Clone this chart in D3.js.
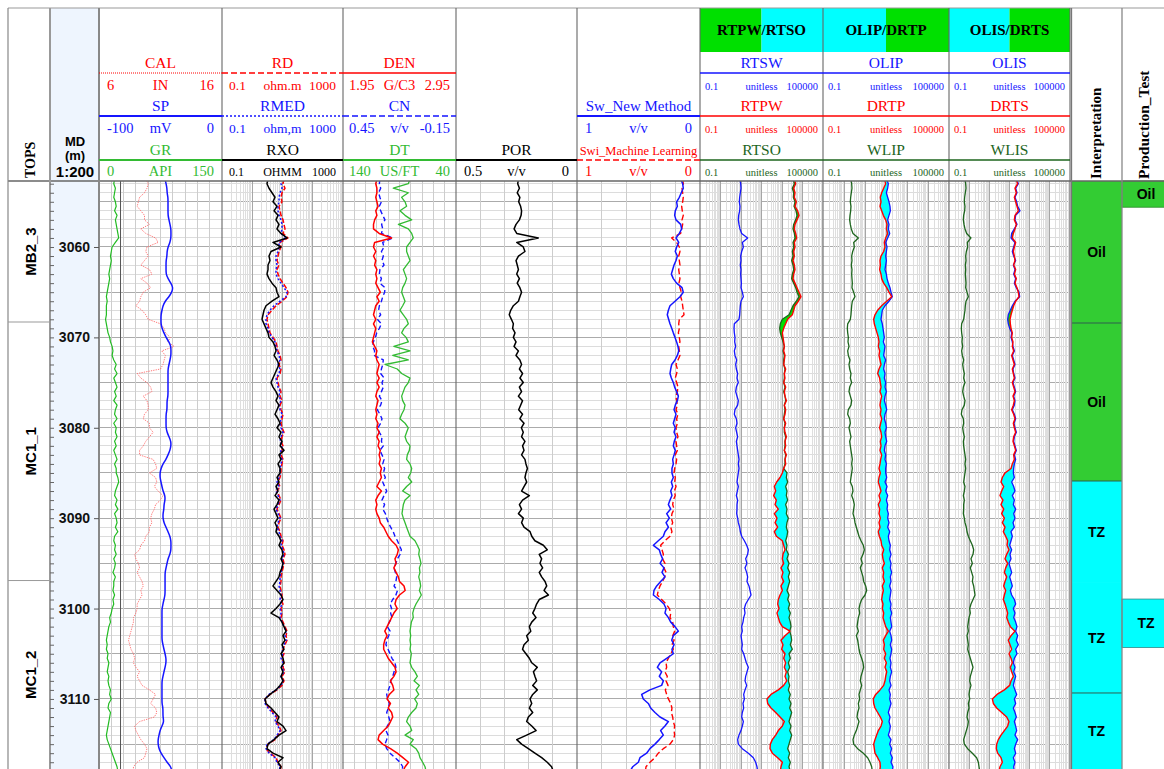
<!DOCTYPE html>
<html><head><meta charset="utf-8">
<script src="https://cdn.jsdelivr.net/npm/d3@7"></script>
<style>
html,body{margin:0;padding:0;background:#fff;}
svg{display:block;}
</style></head>
<body>
<svg id="chart" width="1164" height="769"></svg>
<script>
// ---------------- log data (sampled every 0.5 m from 3052.5 m) ----------------
const depthTop = 3052.5, depthStep = 0.5;

const GR = [19,18,20,19,18,20,21,19,22,20, 21,22,23,24,20,16,15,14,15,14, 13,12,13,12,11,10,9,10,9,9,
 9,8,9,10,11,13,14,16,17,16, 18,21,19,22,18,20,22,19,21,18, 22,20,19,22,18,21,20,22,19,21,
 18,20,22,19,21,21,23,24,22,20, 19,22,20,23,19,21,22,20,23,19, 18,20,19,21,18,20,19,17,20,18,
 18,17,19,17,18,16,15,13,14,12, 11,10,9,10,9,11,10,12,11,10, 12,11,12,14,13,15,12,11,14,13,
 12,11,10,9,10,12,14,16,18,20, 22,23];
const CAL = [9.8,10.0,9.9,9.7,9.3,9.2,9.1,9.4,9.7,9.7, 10.1,9.4,9.8,10.6,10.8,9.9,9.8,10.0,9.7,9.4,
 10.1,10.3,9.4,9.9,10.2,9.6,9.4,9.3,9.0,9.5, 9.8,10.0,11.0,11.3,11.4,11.8,11.6,12.1,11.1,11.4,
 11.3,11.2,11.0,9.1,9.4,9.9,10.2,10.3,9.6,9.9, 10.0,10.0,9.7,9.6,10.1,10.1,10.4,10.1,9.8,9.6,
 9.3,9.3,10.4,10.6,10.7,10.1,10.6,10.7,10.5,10.8, 11.2,11.0,10.6,10.5,10.3,10.2,10.3,10.1,10.1,9.8,
 9.7,9.4,9.3,8.9,9.0,9.2,9.3,9.1,9.3,9.5, 9.6,9.4,9.5,9.3,9.1,9.1,9.0,8.8,8.8,8.7,
 8.6,8.5,8.4,8.5,8.6,8.8,8.9,8.8,9.0,9.3, 9.1,9.3,9.5,10.1,10.6,10.4,10.2,10.6,10.7,10.5,
 9.3,8.9,9.0,9.2,9.4,9.7,9.9,9.8,9.7,9.1, 8.8,8.8];
const SP = [-46.3,-45.5,-44.7,-44.7,-43.9,-43.9,-43.9,-43.9,-43.9,-43.1, -42.3,-41.5,-41.5,-41.5,-42.3,-43.9,-44.7,-44.7,-45.5,-45.5,
 -45.5,-45.5,-43.9,-41.5,-39.8,-40.7,-43.1,-46.3,-48.0,-48.8, -49.6,-49.6,-49.6,-48.8,-47.2,-45.5,-43.1,-41.5,-41.5,-41.5,
 -42.3,-43.1,-43.9,-43.9,-43.9,-43.9,-43.9,-43.9,-43.9,-44.7, -44.7,-44.7,-45.5,-45.5,-45.5,-45.5,-44.7,-43.1,-41.5,-41.5,
 -42.3,-43.9,-45.5,-48.0,-49.6,-50.4,-50.4,-49.6,-48.8,-48.0, -46.3,-46.3,-47.2,-47.2,-48.0,-48.0,-47.2,-45.5,-43.9,-42.3,
 -41.5,-41.5,-41.5,-42.3,-43.9,-44.7,-45.5,-46.3,-46.3,-46.3, -46.3,-46.3,-46.3,-47.2,-48.0,-48.8,-48.8,-48.8,-48.8,-48.8,
 -48.8,-48.8,-48.8,-48.0,-47.2,-46.3,-45.5,-45.5,-46.3,-47.2, -48.0,-48.8,-48.8,-48.8,-48.8,-48.8,-48.8,-48.0,-48.0,-48.0,
 -47.2,-48.8,-50.4,-51.2,-52.0,-52.0,-51.2,-49.6,-47.2,-44.7, -41.5,-40.7];
const RD = [11.2,10.4,12.1,9.62,8.92,9.62,7.66,8.27,8.92,10.4, 11.2,12.1,10.4,15.2,8.27,8.92,7.66,7.10,6.58,7.66,
 6.58,7.10,8.27,10.4,13.1,15.2,14.1,9.62,6.10,4.50, 3.32,3.07,3.32,3.58,3.86,4.85,6.10,6.58,7.10,8.27,
 8.92,7.66,8.92,8.27,6.58,7.10,7.66,8.92,8.27,9.62, 8.27,8.92,10.4,9.62,8.92,9.62,11.2,9.62,8.92,10.4,
 9.62,8.92,10.4,9.62,8.92,8.92,8.27,7.10,8.27,6.58, 7.66,8.92,7.66,6.58,7.66,8.92,7.66,7.10,8.27,8.92,
 10.4,9.62,11.2,12.1,10.4,11.2,10.4,9.62,8.92,8.92, 8.27,8.92,9.62,8.92,10.4,8.92,9.62,8.92,10.4,12.1,
 14.1,13.1,14.1,12.1,10.4,11.2,9.62,11.2,10.4,12.1, 9.62,11.2,9.62,6.58,3.86,2.64,2.85,3.58,4.85,6.58,
 6.10,7.66,8.92,7.10,5.65,3.32,2.85,3.86,6.10,7.10, 8.92,8.27];
const RMED = [8.92,8.92,9.62,8.27,7.66,7.66,7.10,7.10,7.66,8.92, 9.62,9.62,8.92,13.1,7.66,7.66,7.10,6.10,6.10,6.58,
 6.10,6.10,7.10,8.92,11.2,14.1,13.1,8.27,5.24,3.86, 3.07,2.85,2.85,3.32,3.58,4.50,5.65,6.10,6.58,7.66,
 8.27,7.10,8.27,7.66,6.10,6.58,7.10,8.27,7.66,8.92, 7.66,8.27,9.62,8.92,8.27,8.92,10.4,8.92,8.27,9.62,
 8.92,8.27,9.62,8.92,8.27,8.27,7.66,6.58,7.66,6.10, 7.10,8.27,7.10,6.10,7.10,8.27,7.10,6.58,7.66,8.27,
 9.62,8.92,10.4,11.2,9.62,10.4,9.62,8.92,8.27,8.27, 7.66,8.27,8.92,8.27,9.62,8.27,8.92,8.27,9.62,11.2,
 13.1,12.1,13.1,11.2,9.62,10.4,8.92,10.4,9.62,11.2, 8.92,10.4,8.92,6.10,3.58,2.64,2.64,3.32,4.50,6.10,
 5.65,7.10,8.27,6.58,5.24,3.07,2.85,3.58,5.65,6.58, 8.27,7.66];
const RXO = [3.32,3.07,3.58,4.50,5.65,4.85,6.58,5.24,7.10,6.10, 7.66,6.58,8.92,14.1,4.85,8.92,4.17,3.58,3.86,3.32,
 3.32,3.07,3.58,4.50,6.10,6.58,7.66,4.50,2.85,2.45, 2.27,2.10,2.45,2.85,3.32,3.58,4.85,5.65,6.10,5.24,
 6.58,7.66,6.58,5.65,4.85,4.17,4.85,6.10,7.10,6.10, 7.66,6.58,5.65,7.10,8.27,6.58,8.92,7.66,9.62,8.27,
 11.2,7.66,8.92,7.10,8.27,8.27,6.58,7.66,6.10,7.10, 5.65,7.66,6.58,5.24,6.10,7.10,5.65,6.58,6.10,7.66,
 8.92,7.66,9.62,10.4,8.92,10.4,9.62,8.27,7.66,6.10, 4.85,6.58,8.92,10.4,8.27,6.10,4.17,7.66,9.62,11.2,
 13.1,10.4,12.1,9.62,11.2,8.92,10.4,11.2,8.92,10.4, 8.92,10.4,8.27,6.10,3.86,2.64,2.85,4.17,5.65,7.66,
 6.58,10.4,13.1,7.66,5.24,3.32,3.07,4.85,10.4,7.10, 8.92,7.66];
const DEN = [2.25,2.24,2.25,2.25,2.24,2.25,2.26,2.24,2.25,2.23, 2.22,2.22,2.27,2.38,2.23,2.22,2.24,2.22,2.24,2.23,
 2.25,2.24,2.25,2.24,2.26,2.28,2.25,2.27,2.24,2.23, 2.22,2.24,2.22,2.24,2.23,2.22,2.21,2.23,2.25,2.24,
 2.25,2.27,2.26,2.25,2.27,2.25,2.27,2.25,2.24,2.26, 2.25,2.24,2.25,2.24,2.26,2.25,2.27,2.25,2.27,2.26,
 2.28,2.27,2.28,2.27,2.29,2.28,2.29,2.27,2.25,2.29, 2.26,2.24,2.25,2.24,2.25,2.27,2.28,2.31,2.33,2.35,
 2.38,2.42,2.44,2.43,2.41,2.42,2.40,2.42,2.44,2.45, 2.49,2.50,2.45,2.42,2.41,2.43,2.40,2.38,2.36,2.34,
 2.32,2.34,2.32,2.31,2.31,2.33,2.35,2.38,2.41,2.42, 2.40,2.37,2.39,2.40,2.36,2.34,2.37,2.35,2.38,2.39,
 2.37,2.35,2.31,2.27,2.26,2.30,2.37,2.43,2.48,2.53, 2.50,2.48];
const CN = [.254,.257,.250,.261,.254,.246,.257,.250,.239,.227, .245,.239,.246,.185,.239,.232,.246,.236,.243,.232,
 .254,.257,.246,.254,.227,.229,.239,.246,.257,.261, .250,.268,.246,.257,.271,.278,.289,.292,.282,.285,
 .236,.239,.246,.250,.232,.243,.236,.246,.257,.243, .250,.268,.254,.243,.250,.264,.257,.243,.246,.236,
 .254,.243,.232,.239,.229,.236,.225,.239,.229,.218, .232,.243,.229,.239,.225,.218,.209,.197,.183,.174,
 .161,.151,.140,.147,.161,.169,.179,.172,.165,.169, .179,.161,.169,.186,.200,.192,.197,.190,.204,.215,
 .200,.207,.218,.222,.211,.200,.190,.174,.169,.179, .186,.197,.200,.209,.218,.213,.204,.209,.218,.207,
 .200,.215,.222,.211,.218,.227,.218,.200,.174,.147, .133,.138];
const DT = [80.7,82.2,95.5,82.2,88.1,85.1,83.7,89.6,85.1,79.2, 91.0,82.2,79.2,77.8,80.7,83.7,83.7,82.2,80.7,83.7,
 86.6,85.1,83.7,85.1,87.2,88.1,86.6,85.1,87.2,89.6, 86.6,83.7,82.2,86.0,88.1,84.2,82.2,95.0,80.7,96.0,
 82.2,102.8,92.0,88.1,80.7,82.2,85.1,86.6,88.1,87.2, 85.1,86.0,88.1,89.6,85.1,82.2,83.7,85.1,83.7,80.7,
 81.3,83.1,83.7,80.7,79.2,80.1,82.2,79.2,83.7,87.2, 80.7,85.1,86.6,87.2,87.8,86.6,85.1,83.7,82.2,80.7,
 76.3,74.2,72.4,73.0,71.9,71.0,72.4,71.9,73.0,71.9, 71.3,72.4,70.7,73.0,75.4,77.2,78.3,77.8,79.5,80.1,
 80.7,80.1,80.7,80.1,80.7,79.5,80.1,80.7,79.2,76.3, 74.2,77.2,72.4,75.4,73.0,76.6,74.2,75.4,79.2,82.2,
 83.7,80.7,79.2,85.1,77.8,80.7,75.4,73.0,71.9,69.5, 67.4,66.5];
const POR = [.242,.245,.238,.247,.236,.241,.233,.229,.231,.238, .252,.260,.249,.160,.249,.222,.215,.242,.252,.247,
 .242,.249,.238,.247,.236,.229,.236,.242,.263,.274, .280,.271,.263,.266,.256,.263,.252,.260,.242,.252,
 .236,.229,.238,.225,.236,.222,.238,.229,.242,.225, .233,.241,.225,.236,.219,.230,.222,.229,.215,.225,
 .219,.229,.215,.211,.205,.211,.215,.208,.219,.229, .197,.225,.238,.229,.242,.222,.229,.219,.194,.187,
 .174,.139,.123,.156,.146,.153,.142,.156,.146,.132, .125,.136,.118,.156,.167,.174,.183,.169,.187,.197,
 .191,.208,.201,.219,.225,.211,.197,.187,.164,.180, .174,.167,.183,.164,.183,.194,.187,.197,.183,.201,
 .208,.187,.169,.208,.249,.229,.201,.174,.146,.123, .105,.098];
const SW_NEW = [.157,.141,.136,.152,.168,.190,.184,.201,.206,.195, .157,.149,.168,.195,.173,.190,.201,.184,.195,.211,
 .222,.233,.217,.190,.146,.136,.163,.203,.244,.257, .266,.255,.244,.230,.217,.203,.190,.179,.173,.184,
 .203,.230,.238,.244,.233,.217,.206,.190,.176,.184, .201,.211,.195,.206,.217,.201,.211,.195,.209,.217,
 .201,.211,.222,.217,.228,.228,.217,.233,.222,.238, .228,.244,.257,.238,.271,.249,.276,.257,.285,.298,
 .339,.379,.331,.320,.304,.325,.293,.309,.285,.320, .352,.374,.379,.331,.293,.276,.285,.257,.238,.203,
 .176,.217,.230,.211,.228,.217,.271,.325,.347,.312, .331,.298,.312,.407,.474,.461,.420,.401,.366,.325,
 .257,.285,.320,.298,.331,.366,.407,.434,.488,.501, .547,.569];
const SWI_ML = [.141,.136,.146,.141,.136,.141,.149,.144,.136,.146, .141,.149,.157,.230,.190,.168,.163,.173,.168,.163,
 .173,.168,.163,.171,.163,.152,.157,.146,.141,.136, .130,.168,.173,.168,.176,.168,.163,.173,.168,.163,
 .179,.195,.184,.190,.201,.190,.179,.184,.195,.190, .184,.195,.179,.190,.184,.195,.190,.179,.195,.190,
 .184,.201,.190,.195,.206,.211,.201,.206,.195,.209, .201,.217,.222,.211,.228,.233,.222,.238,.228,.244,
 .285,.320,.309,.298,.304,.285,.293,.276,.287,.304, .325,.339,.347,.312,.276,.249,.238,.244,.222,.217,
 .206,.222,.211,.228,.217,.238,.257,.276,.271,.285, .266,.276,.260,.282,.271,.257,.238,.228,.233,.222,
 .217,.206,.211,.206,.217,.244,.298,.339,.366,.407, .439,.444];
const RTSW = [8.93,9.63,10.0,9.27,8.61,8.29,8.93,8.61,7.69,7.41, 7.98,8.93,10.8,21.1,11.6,13.0,10.8,9.63,10.0,9.27,
 10.0,9.63,10.0,10.4,10.0,11.6,13.0,10.0,9.27,8.93, 8.61,7.98,4.73,4.56,4.73,5.09,4.91,5.49,4.73,5.09,
 6.15,5.49,5.92,6.87,6.38,7.41,5.92,5.49,6.38,7.41, 6.87,5.09,4.73,5.92,6.38,5.49,6.15,6.87,5.92,6.38,
 6.87,7.41,7.98,7.41,7.98,7.41,6.87,6.38,7.41,6.62, 5.92,6.87,6.38,6.38,6.15,6.87,7.41,8.61,9.27,10.8,
 14.6,18.9,22.8,21.1,16.9,19.6,15.7,18.9,21.1,19.6, 24.5,27.5,30.8,22.8,16.9,14.6,15.7,13.5,12.5,10.8,
 11.6,10.0,10.8,11.6,10.8,13.5,15.7,18.2,22.8,19.6, 16.9,15.7,18.9,15.7,13.5,14.6,12.5,13.5,11.6,10.8,
 13.0,11.6,10.0,7.98,6.87,7.41,11.6,22.8,40.0,51.9, 60.3,65.0];
const RTPW = [4000,4640,3710,4310,4000,5000,4310,5810,6750,5390, 4310,4000,4640,5190,4000,4310,3710,4000,3440,4000,
 4310,3710,3440,4310,5390,6750,8450,6260,4310,3710, 3190,1890,1510,1210,1040,1120,1210,1300,1210,1400,
 1300,1210,1510,1300,1400,1210,1510,1300,1400,1630, 1300,1510,1400,1210,1510,1300,1400,1630,1400,1510,
 1300,1630,1400,1510,1210,1040,800,550,423,491, 392,529,456,662,423,570,456,615,423,529,
 1040,1210,1400,1120,1040,1210,893,1120,963,1210, 893,1040,800,662,615,714,570,662,769,1040,
 2460,1400,893,1120,963,1400,1210,1510,1300,1630, 1400,1690,1210,662,290,185,200,290,491,800,
 1300,1040,662,491,337,270,260,337,615,1040, 893,829];
const RTSO = [3440,4000,3190,3710,3570,4310,3850,4820,5390,4640, 3710,3440,4000,4310,3440,3710,3190,3440,2960,3440,
 3710,3190,2960,3710,4640,5390,6750,5000,3440,2750, 2200,1040,829,769,829,963,1120,1300,1120,1300,
 1210,1210,1400,1300,1300,1210,1400,1210,1400,1510, 1300,1400,1300,1210,1400,1300,1300,1510,1400,1400,
 1300,1510,1400,1400,1210,1750,1630,1890,1510,1750, 1630,1890,1510,1750,1630,2040,1750,1630,1890,1750,
 1510,1750,1630,2040,1750,2200,1890,2370,2040,2370, 2040,1750,2200,1890,2370,2040,2550,2200,2550,2750,
 2370,2750,2960,2550,3190,2200,2550,2040,2370,1890, 2200,2040,2370,2040,2550,2200,2750,2370,2960,2550,
 2200,2750,2370,2960,2550,2200,1890,2370,2040,2550, 2200,2550];
const WLIP = [2.15,2.32,2.40,2.23,2.08,2.00,2.15,2.08,1.93,1.86, 2.00,2.23,2.68,4.82,2.89,3.10,2.59,2.32,2.40,2.23,
 2.40,2.32,2.40,2.49,2.40,2.89,3.34,2.49,2.32,2.23, 2.15,2.00,1.50,1.44,1.50,1.61,1.55,1.73,1.50,1.61,
 1.93,1.73,1.86,2.15,2.00,2.32,1.86,1.73,2.00,2.32, 2.15,1.61,1.50,1.86,2.00,1.73,1.93,2.15,1.86,2.00,
 2.15,2.32,2.49,2.32,2.49,2.32,2.15,2.00,2.49,2.68, 2.32,2.78,3.10,2.89,2.68,3.10,3.34,3.87,4.48,5.18,
 6.45,8.33,9.30,8.03,6.45,7.46,6.00,6.94,8.03,8.64, 10.8,12.0,10.0,6.94,5.78,5.18,5.57,4.82,4.48,4.16,
 4.82,3.87,4.48,4.82,5.18,5.78,6.94,8.03,8.64,7.46, 6.45,6.00,6.94,6.00,5.18,5.57,4.82,5.18,4.48,4.16,
 5.18,4.48,3.87,3.10,2.68,2.89,4.48,8.33,13.4,17.3, 20.8,22.3];
const DRTP = [83.3,96.4,77.4,62.2,53.7,57.8,51.8,62.2,74.6,96.4, 112,104,120,96.4,83.3,89.6,77.4,57.8,51.8,53.7,
 49.9,57.8,62.2,77.4,108,139,186,108,62.2,40.1, 29.9,25.9,27.8,32.2,37.3,43.1,46.4,43.1,49.9,46.4,
 51.8,57.8,46.4,40.1,49.9,53.7,57.8,51.8,62.2,55.7, 51.8,57.8,53.7,62.2,55.7,49.9,57.8,62.2,53.7,57.8,
 51.8,62.2,55.7,51.8,46.4,53.7,46.4,43.1,49.9,57.8, 46.4,53.7,43.1,49.9,46.4,53.7,46.4,51.8,43.1,48.2,
 57.8,62.2,77.4,66.8,71.9,83.3,66.8,77.4,71.9,83.3, 66.8,74.6,66.8,62.2,71.9,66.8,77.4,71.9,83.3,96.4,
 129,96.4,74.6,83.3,77.4,96.4,83.3,104,89.6,108, 96.4,89.6,77.4,51.8,32.2,24.9,25.9,29.9,40.1,53.7,
 66.8,57.8,43.1,35.9,29.9,25.9,27.8,29.9,40.1,51.8, 53.7,49.9];
const OLIP = [108,129,120,104,120,139,155,161,139,120, 139,129,150,120,96.4,112,104,96.4,104,96.4,
 89.6,104,112,129,155,173,200,139,89.6,66.8, 62.2,57.8,66.8,71.9,77.4,83.3,74.6,89.6,83.3,77.4,
 96.4,83.3,77.4,89.6,83.3,96.4,89.6,104,89.6,83.3, 96.4,108,89.6,83.3,96.4,104,89.6,96.4,108,89.6,
 83.3,96.4,89.6,104,96.4,96.4,108,89.6,112,96.4, 120,104,120,112,129,120,139,120,150,129,
 139,161,150,173,150,173,161,186,161,173, 150,173,161,150,173,161,186,161,173,186,
 150,173,186,161,186,173,155,173,161,186, 161,150,173,139,161,150,173,150,129,155,
 139,161,150,129,173,150,186,161,200,173, 215,200];
const WLIS = [.621,.670,.696,.645,.598,.576,.621,.598,.533,.514, .555,.621,.751,1.23,.811,.843,.724,.670,.696,.645,
 .670,.645,.670,.696,.670,.781,.910,.696,.645,.621, .576,.533,.425,.409,.425,.459,.441,.476,.425,.459,
 .533,.476,.514,.576,.533,.621,.514,.476,.533,.621, .576,.441,.409,.514,.533,.476,.514,.576,.514,.533,
 .576,.621,.670,.621,.670,.621,.576,.533,.621,.576, .514,.576,.533,.533,.514,.576,.621,.724,.781,.910,
 1.14,1.44,1.67,1.55,1.23,1.44,1.14,1.33,1.55,1.44, 1.67,1.80,1.95,1.55,1.23,1.06,1.14,.982,.910,.843,
 .910,.781,.843,.910,.843,.982,1.14,1.33,1.55,1.33, 1.14,1.06,1.23,1.06,.982,1.06,.910,.982,.843,.781,
 .910,.843,.724,.621,.533,.576,.843,1.44,2.35,2.85, 3.08,3.32];
const DRTS = [202,254,187,218,174,202,235,274,187,174, 218,187,155,138,202,174,155,174,187,161,
 202,174,218,187,235,274,296,202,161,138, 119,106,110,119,138,128,149,138,161,128,
 149,174,138,155,174,138,161,187,149,174, 155,128,161,187,155,174,202,161,149,174,
 202,161,174,138,119,59.8,44.2,37.9,51.4,40.9, 33.8,47.6,37.9,51.4,40.9,55.5,44.2,59.8,49.4,64.6,
 81.2,75.2,94.4,72.4,59.8,81.2,64.6,55.5,72.4,59.8, 51.4,64.6,55.5,49.4,59.8,69.7,81.2,72.4,87.5,110,
 187,119,87.5,106,128,94.4,119,138,110,128, 155,119,102,55.5,24.0,14.1,15.8,23.1,40.9,72.4,
 94.4,81.2,55.5,37.9,27.9,23.1,22.2,25.9,37.9,44.2, 33.8,30.1];
const OLIS = [227,274,202,235,187,227,254,332,202,187, 235,174,128,119,187,161,138,161,202,155,
 187,161,202,174,218,296,319,187,138,110, 87.5,81.2,87.5,102,128,119,138,149,174,138,
 161,187,149,161,187,149,174,202,161,187, 174,138,174,202,167,187,218,174,161,187,
 218,174,202,174,161,155,174,128,161,187, 138,174,155,202,161,187,149,174,119,138,
 119,102,128,106,119,94.4,110,128,102,119, 138,110,128,174,202,155,187,161,202,235,
 202,254,218,274,202,235,174,155,187,161, 202,174,155,187,227,174,202,155,187,218,
 174,202,227,187,254,202,174,202,155,187, 161,174];
const bitSize = 7.75; // IN, drawn as a constant reference in the caliper track

// depth annotation
const depthLabels = [3060, 3070, 3080, 3090, 3100, 3110];
const topsNames = ["MB2_3", "MC1_1", "MC1_2"];
const topsDepths = [3052.7, 3068.3, 3096.9];
const logBase = 3117.75;
const interpLabels = ["Oil", "Oil", "TZ", "TZ", "TZ"];
const interpTops = [3052.7, 3068.41, 3085.89, 3097.17, 3109.34];
const interpLines = [3068.41, 3085.89, 3109.34];
const testLabels = ["Oil", "TZ"];
const testTops = [3052.7, 3098.95];
const testBases = [3055.6, 3104.3];

// ---------------- layout ----------------
const svg = d3.select("#chart");
const W = 1164, H = 769;
const hdrTop = 8, dataTop = 181, dataBot = 769;
const SERIF = "'Liberation Serif','Times New Roman',serif";
const SANS = "'Liberation Sans',Arial,sans-serif";
const y = d3.scaleLinear().domain([3052.7, logBase]).range([dataTop, dataBot]);
const depths = GR.map((_, i) => depthTop + i * depthStep);

const T = {
  t1: {x0: 99, x1: 222}, t2: {x0: 222, x1: 343}, t3: {x0: 343, x1: 456}, t4: {x0: 456, x1: 577},
  t5: {x0: 577, x1: 700}, t6: {x0: 700, x1: 823}, t7: {x0: 823, x1: 949}, t8: {x0: 949, x1: 1070}
};
const colTops = {x0: 8, x1: 50}, colMD = {x0: 50, x1: 99}, colInt = {x0: 1071, x1: 1122}, colTest = {x0: 1122, x1: 1170};

const RED = "#ff0000", BLUE = "#1515ff", GREEN = "#33bb33", DKGREEN = "#1d651d", BLACK = "#000";
const OILC = "#33cc33", TZC = "#00ffff", BANDG = "#00e000";

svg.append("rect").attr("width", W).attr("height", H).attr("fill", "#fff");
const defs = svg.append("defs");

// MD column background
svg.append("rect").attr("x", colMD.x0).attr("y", hdrTop).attr("width", colMD.x1 - colMD.x0)
  .attr("height", H - hdrTop).attr("fill", "#eef5fe");

// title bands over the ratio tracks
[["t6", BANDG, TZC, "RTPW/RTSO"], ["t7", TZC, BANDG, "OLIP/DRTP"], ["t8", TZC, BANDG, "OLIS/DRTS"]].forEach(([k, c1, c2, label]) => {
  const t = T[k], mid = (t.x0 + t.x1) / 2;
  svg.append("rect").attr("x", t.x0).attr("y", hdrTop).attr("width", mid - t.x0).attr("height", 52 - hdrTop).attr("fill", c1);
  svg.append("rect").attr("x", mid).attr("y", hdrTop).attr("width", t.x1 - mid).attr("height", 52 - hdrTop).attr("fill", c2);
  svg.append("text").attr("x", mid).attr("y", 35).attr("text-anchor", "middle")
    .attr("font-family", SERIF).attr("font-weight", "bold").attr("font-size", 15).text(label);
});

// ---------------- grids ----------------
const grid = svg.append("g").attr("shape-rendering", "crispEdges");
function drawGrid(t, scale, log, nDiv) {
  for (let d = Math.ceil(y.invert(dataTop)); d <= Math.floor(logBase); d++) {
    grid.append("line").attr("x1", t.x0).attr("x2", t.x1).attr("y1", y(d)).attr("y2", y(d))
      .attr("stroke", d % 5 === 0 ? "#ababab" : "#dcdcdc");
  }
  if (log) {
    const [lo, hi] = scale.domain();
    const e0 = Math.round(Math.log10(lo)), e1 = Math.round(Math.log10(hi));
    for (let e = e0; e < e1; e++) {
      for (let m = 1; m < 10; m++) {
        const x = scale(m * Math.pow(10, e));
        if (x <= t.x0 + 0.5) continue;
        grid.append("line").attr("x1", x).attr("x2", x).attr("y1", dataTop).attr("y2", dataBot)
          .attr("stroke", m === 1 ? "#a6a6a6" : "#dedede");
      }
    }
  } else {
    for (let k = 1; k < nDiv; k++) {
      const x = t.x0 + k * (t.x1 - t.x0) / nDiv;
      grid.append("line").attr("x1", x).attr("x2", x).attr("y1", dataTop).attr("y2", dataBot).attr("stroke", "#cdcdcd");
    }
  }
}

// scales per curve
const lin = (t, dom) => d3.scaleLinear().domain(dom).range([t.x0, t.x1]);
const lg = (t, dom) => d3.scaleLog().domain(dom).range([t.x0, t.x1]);
const sGR = lin(T.t1, [0, 150]), sCAL = lin(T.t1, [6, 16]), sSP = lin(T.t1, [-100, 0]);
const sRes = lg(T.t2, [0.1, 1000]);
const sDEN = lin(T.t3, [1.95, 2.95]), sCN = lin(T.t3, [0.45, -0.15]), sDT = lin(T.t3, [140, 40]);
const sPOR = lin(T.t4, [0.5, 0]);
const sSW = lin(T.t5, [1, 0]);
const s6 = lg(T.t6, [0.1, 1e5]), s7 = lg(T.t7, [0.1, 1e5]), s8 = lg(T.t8, [0.1, 1e5]);

drawGrid(T.t1, sGR, false, 10);
drawGrid(T.t2, sRes, true);
drawGrid(T.t3, sDEN, false, 10);
drawGrid(T.t4, sPOR, false, 5);
drawGrid(T.t5, sSW, false, 5);
drawGrid(T.t6, s6, true);
drawGrid(T.t7, s7, true);
drawGrid(T.t8, s8, true);

// ---------------- interpretation & test columns ----------------
interpLabels.forEach((lab, i) => {
  const top = interpTops[i], base = i + 1 < interpTops.length ? interpTops[i + 1] : logBase;
  svg.append("rect").attr("x", colInt.x0).attr("y", y(top)).attr("width", colInt.x1 - colInt.x0)
    .attr("height", y(base) - y(top)).attr("fill", lab === "Oil" ? OILC : TZC);
  svg.append("text").attr("x", (colInt.x0 + colInt.x1) / 2).attr("y", (y(top) + y(base)) / 2 + 5)
    .attr("text-anchor", "middle").attr("font-family", SANS).attr("font-weight", "bold").attr("font-size", 14).text(lab);
});
interpLines.forEach(d => {
  svg.append("line").attr("x1", colInt.x0).attr("x2", colInt.x1).attr("y1", y(d)).attr("y2", y(d))
    .attr("stroke", "#2f5f4f").attr("stroke-width", 1);
});
testLabels.forEach((lab, i) => {
  const a = y(testTops[i]), b = y(testBases[i]);
  svg.append("rect").attr("x", colTest.x0).attr("y", a).attr("width", colTest.x1 - colTest.x0).attr("height", b - a)
    .attr("fill", lab === "Oil" ? OILC : TZC).attr("stroke", lab === "Oil" ? "#2a8a2a" : "#2a8a8a").attr("stroke-width", 0.8);
  svg.append("text").attr("x", 1146).attr("y", (a + b) / 2 + 5).attr("text-anchor", "middle")
    .attr("font-family", SANS).attr("font-weight", "bold").attr("font-size", 14).text(lab);
});

// ---------------- curves ----------------
function trackLayer(id, t) {
  defs.append("clipPath").attr("id", "clip-" + id).append("rect")
    .attr("x", t.x0).attr("y", dataTop).attr("width", t.x1 - t.x0).attr("height", dataBot - dataTop);
  return svg.append("g").attr("clip-path", `url(#clip-${id})`);
}
function curve(g, vals, sx, color, width, dash, interp) {
  const line = d3.line().x(v => sx(v)).y((v, i) => y(depths[i])).curve(interp || d3.curveLinear);
  g.append("path").datum(vals).attr("d", line).attr("fill", "none").attr("stroke", color)
    .attr("stroke-width", width).attr("stroke-dasharray", dash || null).attr("stroke-linejoin", "round");
}
// fill between a red curve (a) and a companion curve (b): cyan where a < b, green where a > b
function ratioFill(g, a, b, sx) {
  const rows = depths.map((d, i) => ({d, a: a[i], b: b[i]}));
  const cyan = d3.area().y(r => y(r.d)).x0(r => sx(r.a)).x1(r => sx(Math.max(r.a, r.b)));
  const green = d3.area().y(r => y(r.d)).x0(r => sx(r.b)).x1(r => sx(Math.max(r.a, r.b)));
  g.append("path").datum(rows).attr("d", cyan).attr("fill", TZC);
  g.append("path").datum(rows).attr("d", green).attr("fill", BANDG);
}

const g1 = trackLayer("t1", T.t1);
g1.append("line").attr("x1", sCAL(bitSize)).attr("x2", sCAL(bitSize)).attr("y1", dataTop).attr("y2", dataBot)
  .attr("stroke", "#555").attr("stroke-width", 1);
curve(g1, CAL, sCAL, "#ff6a6a", 0.9, "1.3,1.1");
curve(g1, GR, sGR, "#22bb22", 1.2);
curve(g1, SP, sSP, BLUE, 1.5, null, d3.curveBasis);

const g2 = trackLayer("t2", T.t2);
curve(g2, RD, sRes, RED, 1.5, "5,2");
curve(g2, RMED, sRes, BLUE, 1.5, "2,2");
curve(g2, RXO, sRes, BLACK, 1.5);

const g3 = trackLayer("t3", T.t3);
curve(g3, DT, sDT, "#33bb33", 1.3);
curve(g3, CN, sCN, BLUE, 1.4, "5,3");
curve(g3, DEN, sDEN, RED, 1.5);

const g4 = trackLayer("t4", T.t4);
curve(g4, POR, sPOR, BLACK, 1.5);

const g5 = trackLayer("t5", T.t5);
curve(g5, SWI_ML, sSW, RED, 1.4, "6,3");
curve(g5, SW_NEW, sSW, BLUE, 1.5);

const g6 = trackLayer("t6", T.t6);
ratioFill(g6, RTPW, RTSO, s6);
curve(g6, RTSW, s6, BLUE, 1.3);
curve(g6, RTSO, s6, DKGREEN, 1.3);
curve(g6, RTPW, s6, RED, 1.4);

const g7 = trackLayer("t7", T.t7);
ratioFill(g7, DRTP, OLIP, s7);
curve(g7, WLIP, s7, DKGREEN, 1.3);
curve(g7, OLIP, s7, BLUE, 1.3);
curve(g7, DRTP, s7, RED, 1.4);

const g8 = trackLayer("t8", T.t8);
ratioFill(g8, DRTS, OLIS, s8);
curve(g8, WLIS, s8, DKGREEN, 1.3);
curve(g8, OLIS, s8, BLUE, 1.3);
curve(g8, DRTS, s8, RED, 1.4);

// ---------------- frame ----------------
const frame = svg.append("g");
const vline = (x, y1, y2, c, w) => frame.append("line").attr("x1", x).attr("x2", x).attr("y1", y1).attr("y2", y2).attr("stroke", c).attr("stroke-width", w);
const hline = (x1, x2, yy, c, w, dash) => frame.append("line").attr("x1", x1).attr("x2", x2).attr("y1", yy).attr("y2", yy).attr("stroke", c).attr("stroke-width", w).attr("stroke-dasharray", dash || null);
hline(8, W, hdrTop, "#999", 1.2);
hline(8, W, dataTop, "#666", 1.3);
vline(8, hdrTop, H, "#888", 1.2);
vline(50, hdrTop, H, "#999", 2);
vline(99, hdrTop, H, "#888", 2);
[222, 343, 456, 577, 700, 823, 949, 1070].forEach(x => vline(x, hdrTop, H, "#666", 1.1));
vline(1071.5, hdrTop, H, "#777", 1.3);
vline(1122, hdrTop, H, "#888", 1.3);

// tops column
topsNames.forEach((name, i) => {
  const a = y(topsDepths[i]), b = y(i + 1 < topsDepths.length ? topsDepths[i + 1] : logBase);
  svg.append("text").attr("transform", `translate(${(colTops.x0 + colTops.x1) / 2 + 1},${(a + b) / 2}) rotate(-90)`)
    .attr("text-anchor", "middle").attr("dominant-baseline", "central")
    .attr("font-family", SANS).attr("font-weight", "bold").attr("font-size", 15).text(name);
  if (i > 0) hline(colTops.x0, colTops.x1, a, "#999", 1);
});

// depth axis
const mdAxis = svg.append("g").attr("transform", `translate(${colMD.x1},0)`)
  .call(d3.axisLeft(y).tickValues(depthLabels).tickSize(5).tickPadding(4).tickFormat(d3.format("d")));
mdAxis.select(".domain").remove();
mdAxis.selectAll("text").attr("font-family", SANS).attr("font-weight", "bold").attr("font-size", 14).attr("fill", "#111");
mdAxis.selectAll("line").attr("stroke", "#555");
const minorTicks = d3.range(Math.ceil(y.invert(dataTop)), Math.floor(logBase) + 1);
const mdMinor = svg.append("g").attr("transform", `translate(${colMD.x0},0)`)
  .call(d3.axisRight(y).tickValues(minorTicks).tickSize(4).tickFormat(""));
mdMinor.select(".domain").remove();
mdMinor.selectAll("line").attr("stroke", "#666");

// ---------------- header ----------------
const hdr = svg.append("g");
function htext(x, yy, str, color, size, anchor, opts) {
  const t = hdr.append("text").attr("x", x).attr("y", yy).attr("fill", color).attr("font-size", size)
    .attr("font-family", (opts && opts.family) || SERIF).attr("text-anchor", anchor || "middle").text(str);
  if (opts && opts.bold) t.attr("font-weight", "bold");
  return t;
}
const nameY = [68, 111, 155], lineY = [73, 116, 160], scaleY = [90, 133, 176];
function headerCurve(t, row, name, color, lo, unit, hi, dash, lw, nameSize, scaleSize, pad) {
  const mid = (t.x0 + t.x1) / 2;
  htext(mid, nameY[row], name, color, nameSize || 15.5);
  hline(t.x0, t.x1, lineY[row], color, lw || 1.5, dash);
  const p = pad || 8, s = scaleSize || 14.5;
  htext(t.x0 + p, scaleY[row], lo, color, s, "start");
  htext(mid, scaleY[row], unit, color, s, "middle");
  htext(t.x1 - p, scaleY[row], hi, color, s, "end");
}
headerCurve(T.t1, 0, "CAL", RED, "6", "IN", "16", "1,1", 1);
headerCurve(T.t1, 1, "SP", BLUE, "-100", "mV", "0", null, 2);
headerCurve(T.t1, 2, "GR", GREEN, "0", "API", "150", null, 2);
headerCurve(T.t2, 0, "RD", RED, "0.1", "ohm.m", "1000", "6,3", 1.5, null, 13.5, 7);
headerCurve(T.t2, 1, "RMED", BLUE, "0.1", "ohm,m", "1000", "2,2", 1.5, null, 13.5, 7);
headerCurve(T.t2, 2, "RXO", BLACK, "0.1", "OHMM", "1000", null, 2, null, 12, 7);
headerCurve(T.t3, 0, "DEN", RED, "1.95", "G/C3", "2.95", null, 1.5, null, 14.5, 6);
headerCurve(T.t3, 1, "CN", BLUE, "0.45", "v/v", "-0.15", "6,3", 1.5, null, 14.5, 6);
headerCurve(T.t3, 2, "DT", GREEN, "140", "US/FT", "40", null, 2, null, 14.5, 6);
headerCurve(T.t4, 2, "POR", BLACK, "0.5", "v/v", "0", null, 2);
headerCurve(T.t5, 1, "Sw_New Method", BLUE, "1", "v/v", "0", null, 2, 15);
headerCurve(T.t5, 2, "Swi_Machine Learning", RED, "1", "v/v", "0", "6,3", 1.5, 12.5);
[[T.t6, "RTSW", "RTPW", "RTSO"], [T.t7, "OLIP", "DRTP", "WLIP"], [T.t8, "OLIS", "DRTS", "WLIS"]].forEach(([t, a, b, c]) => {
  headerCurve(t, 0, a, BLUE, "0.1", "unitless", "100000", null, 1.5, 15.5, 10.5, 5);
  headerCurve(t, 1, b, RED, "0.1", "unitless", "100000", null, 1.5, 15.5, 10.5, 5);
  headerCurve(t, 2, c, DKGREEN, "0.1", "unitless", "100000", null, 1.5, 15.5, 10.5, 5);
});

// column titles
hdr.append("text").attr("transform", "translate(35,178) rotate(-90)").attr("font-family", SERIF)
  .attr("font-weight", "bold").attr("font-size", 14).text("TOPS");
htext(75, 145.5, "MD", "#000", 13, "middle", {family: SANS, bold: true});
htext(75, 160, "(m)", "#000", 13, "middle", {family: SANS, bold: true});
htext(75, 177, "1:200", "#000", 15, "middle", {family: SANS, bold: true});
hdr.append("text").attr("transform", "translate(1101,179) rotate(-90)").attr("font-family", SERIF)
  .attr("font-weight", "bold").attr("font-size", 15).text("Interpretation");
hdr.append("text").attr("transform", "translate(1149,179) rotate(-90)").attr("font-family", SERIF)
  .attr("font-weight", "bold").attr("font-size", 15.5).text("Production_Test");
</script>
</body></html>
